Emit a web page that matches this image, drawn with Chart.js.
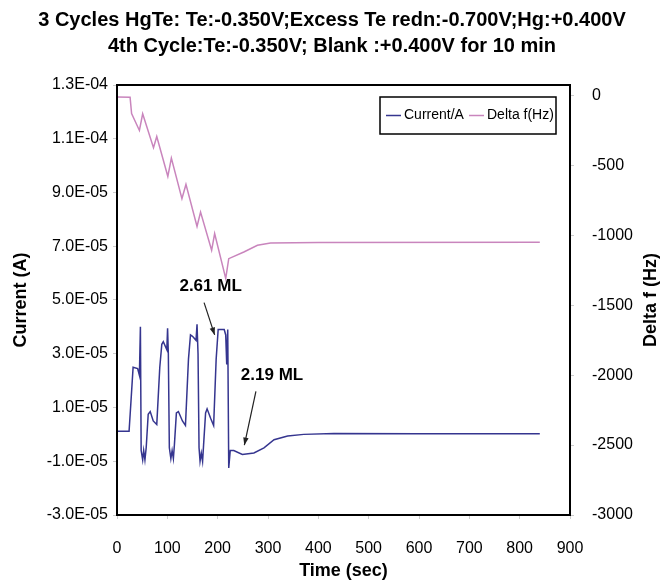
<!DOCTYPE html>
<html>
<head>
<meta charset="utf-8">
<script src="https://cdn.jsdelivr.net/npm/chart.js@4.4.1/dist/chart.umd.min.js"></script>
<style>
  body { margin: 0; background: #fff; }
  #box { width: 664px; height: 584px; }
</style>
</head>
<body>
<div id="box"><canvas id="myChart"></canvas></div>
<script>
// current trace, time in s, value in units of 1e-5 A
const curTime = [0, 24, 27, 32, 41, 44.5, 46.5, 48, 51, 53, 55.5, 58, 62, 66, 72, 79,
  85, 89, 92, 99, 100.5, 102, 104, 107, 109.5, 112, 114, 118, 122, 130, 136,
  142, 146, 150, 157, 159, 161, 163, 165, 167.5, 170, 172, 176, 179, 186, 192,
  197, 201, 213, 216, 218, 220, 222, 225, 232, 249, 272, 292, 312, 339, 371, 431, 600, 840];
const curVal = [0.12, 0.12, 1.0, 2.5, 2.45, 2.2, 4.0, -0.6, -0.95, -0.6, -0.95, -0.5, 0.75, 0.85, 0.5, 0.37,
  2.5, 3.35, 3.45, 3.15, 3.95, 3.0, -0.5, -0.9, -0.6, -0.9, -0.4, 0.8, 0.85, 0.5, 0.33,
  2.8, 3.7, 3.65, 3.5, 4.1, 3.0, -0.5, -1.0, -0.7, -1.0, -0.4, 0.8, 0.95, 0.6, 0.33,
  2.8, 3.9, 3.9, 3.7, 2.6, 3.9, -1.25, -0.6, -0.6, -0.75, -0.69, -0.5, -0.2, -0.06, 0, 0.03, 0.02, 0.02];

// frequency shift trace, Hz
const freqTime = [0, 26, 29, 44.5, 51, 72.5, 79, 101, 108, 129, 137, 159, 166, 188, 194, 216, 222, 252, 279, 305, 400, 840];
const freqVal = [-10, -12, -130, -250, -131, -374, -293, -579, -448, -738, -636, -936, -834, -1107, -988, -1309, -1167, -1119, -1071, -1055, -1052, -1050];

const xTicks = [0, 100, 200, 300, 400, 500, 600, 700, 800, 900];
const leftTicks = [-3e-5, -1e-5, 1e-5, 3e-5, 5e-5, 7e-5, 9e-5, 1.1e-4, 1.3e-4];
const rightTicks = [-3000, -2500, -2000, -1500, -1000, -500, 0];

const curPoints = curTime.map((t, i) => ({ x: t, y: curVal[i] * 1e-5 }));
const freqPoints = freqTime.map((t, i) => ({ x: t, y: freqVal[i] }));

const FONT = "'Liberation Sans', Arial, sans-serif";
const NAVY = "#35358f";
const PINK = "#c985bd";

function sci(v) {
  let parts = v.toExponential(1).toUpperCase().split("E");
  let e = parseInt(parts[1]);
  let ee = String(Math.abs(e)).padStart(2, "0");
  return parts[0] + "E" + (e < 0 ? "-" : "+") + ee;
}

const extras = {
  id: "extras",
  afterDraw(chart) {
    const ctx = chart.ctx;
    const a = chart.chartArea;
    const x = chart.scales.x;
    const y = chart.scales.y;
    ctx.save();
    // frame
    ctx.strokeStyle = "#000";
    ctx.lineWidth = 2;
    ctx.strokeRect(a.left, a.top, a.right - a.left, a.bottom - a.top);

    // right axis title
    ctx.fillStyle = "#000";
    ctx.font = "bold 18px " + FONT;
    ctx.textAlign = "center";
    ctx.textBaseline = "middle";
    ctx.translate(651, (a.top + a.bottom) / 2);
    ctx.rotate(-Math.PI / 2);
    ctx.fillText("Delta f (Hz)", 0, 0);
    ctx.restore();

    // legend
    ctx.save();
    const lx = a.right - 190, ly = a.top + 12, lw = 176, lh = 37;
    ctx.fillStyle = "#fff";
    ctx.fillRect(lx, ly, lw, lh);
    ctx.strokeStyle = "#000";
    ctx.lineWidth = 1.5;
    ctx.strokeRect(lx, ly, lw, lh);
    ctx.font = "14px " + FONT;
    ctx.textBaseline = "middle";
    ctx.textAlign = "left";
    ctx.lineWidth = 1.5;
    ctx.strokeStyle = NAVY;
    ctx.beginPath(); ctx.moveTo(lx + 6, ly + lh / 2); ctx.lineTo(lx + 21, ly + lh / 2); ctx.stroke();
    ctx.fillStyle = "#000";
    ctx.fillText("Current/A", lx + 24, ly + lh / 2);
    ctx.strokeStyle = PINK;
    ctx.beginPath(); ctx.moveTo(lx + 89, ly + lh / 2); ctx.lineTo(lx + 104, ly + lh / 2); ctx.stroke();
    ctx.fillText("Delta f(Hz)", lx + 107, ly + lh / 2);

    // annotations
    ctx.font = "bold 17px " + FONT;
    ctx.textAlign = "center";
    ctx.fillText("2.61 ML", x.getPixelForValue(186), y.getPixelForValue(5.5e-5));
    ctx.fillText("2.19 ML", x.getPixelForValue(308), y.getPixelForValue(2.2e-5));
    arrow(ctx, x.getPixelForValue(173), y.getPixelForValue(4.9e-5), x.getPixelForValue(194), y.getPixelForValue(3.7e-5));
    arrow(ctx, x.getPixelForValue(276), y.getPixelForValue(1.6e-5), x.getPixelForValue(253), y.getPixelForValue(-0.4e-5));
    ctx.restore();
  }
};

function arrow(ctx, x1, y1, x2, y2) {
  ctx.strokeStyle = "#222";
  ctx.fillStyle = "#222";
  ctx.lineWidth = 1.2;
  ctx.beginPath(); ctx.moveTo(x1, y1); ctx.lineTo(x2, y2); ctx.stroke();
  const ang = Math.atan2(y2 - y1, x2 - x1);
  ctx.beginPath();
  ctx.moveTo(x2, y2);
  ctx.lineTo(x2 - 8 * Math.cos(ang - 0.35), y2 - 8 * Math.sin(ang - 0.35));
  ctx.lineTo(x2 - 8 * Math.cos(ang + 0.35), y2 - 8 * Math.sin(ang + 0.35));
  ctx.closePath();
  ctx.fill();
}

const chartBox = document.getElementById("myChart");
const chart1 = new Chart(chartBox, {
  type: "line",
  data: {
    datasets: [
      {
        label: "Current/A",
        data: curPoints,
        yAxisID: "y",
        borderColor: NAVY,
        borderWidth: 1.5,
        pointRadius: 0,
        tension: 0,
      },
      {
        label: "Delta f(Hz)",
        data: freqPoints,
        yAxisID: "y1",
        borderColor: PINK,
        borderWidth: 1.5,
        pointRadius: 0,
        tension: 0,
      },
    ],
  },
  options: {
    responsive: true,
    maintainAspectRatio: false,
    animation: false,
    layout: { padding: { left: 0, right: 0, top: 0, bottom: 0 } },
    plugins: {
      legend: { display: false },
      tooltip: { enabled: false },
      title: {
        display: true,
        text: [
          "3 Cycles HgTe: Te:-0.350V;Excess Te redn:-0.700V;Hg:+0.400V",
          "4th Cycle:Te:-0.350V; Blank :+0.400V for 10 min",
        ],
        color: "#000",
        font: { family: FONT, size: 20, weight: "bold", lineHeight: 1.3 },
        padding: { top: 7, bottom: 26 },
      },
    },
    scales: {
      x: {
        type: "linear",
        min: 0,
        max: 900,
        afterBuildTicks: (axis) => { axis.ticks = xTicks.map((v) => ({ value: v })); },
        afterFit: (scale) => { scale.height = 69; },
        grid: { drawOnChartArea: false, tickLength: 4, color: "#ccc" },
        border: { display: false },
        ticks: { color: "#000", font: { family: FONT, size: 16 }, padding: 20, maxRotation: 0 },
        title: {
          display: true,
          text: "Time (sec)",
          color: "#000",
          font: { family: FONT, size: 18, weight: "bold" },
          padding: { top: 1, bottom: 2 },
        },
      },
      y: {
        position: "left",
        min: -3e-5,
        max: 1.3e-4,
        afterBuildTicks: (axis) => { axis.ticks = leftTicks.map((v) => ({ value: v })); },
        afterFit: (scale) => { scale.width = 117; },
        grid: { drawOnChartArea: false, tickLength: 4, color: "#ccc" },
        border: { display: false },
        ticks: { color: "#000", font: { family: FONT, size: 16 }, padding: 5, callback: (v) => sci(v) },
        title: {
          display: true,
          text: "Current (A)",
          color: "#000",
          font: { family: FONT, size: 18, weight: "bold" },
          padding: { top: 10, bottom: 4 },
        },
      },
      y1: {
        position: "right",
        min: -3000,
        max: 75,
        afterBuildTicks: (axis) => { axis.ticks = rightTicks.map((v) => ({ value: v })); },
        afterFit: (scale) => { scale.width = 94; },
        grid: { drawOnChartArea: false, tickLength: 4, color: "#ccc" },
        border: { display: false },
        ticks: { color: "#000", font: { family: FONT, size: 16 }, padding: 18, callback: (v) => String(v) },
      },
    },
  },
  plugins: [extras],
});
</script>
</body>
</html>
